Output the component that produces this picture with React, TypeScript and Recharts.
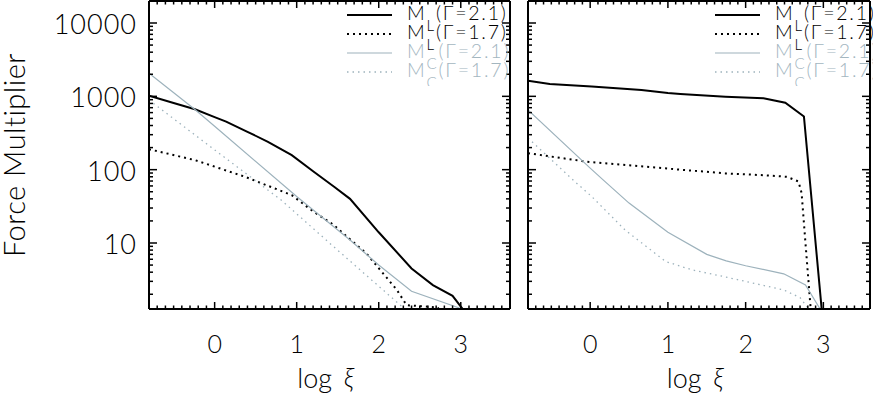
import React from 'react';
import { LineChart, Line, XAxis, YAxis, Legend } from 'recharts';

const FONT = "Lato, 'DejaVu Sans', 'Liberation Sans', sans-serif";
const BLACK = '#000000';
const GRAY = '#9db2bc';
const GRAY_TEXT = '#a3b6bf';

const X_MIN = -0.8;
const X_MAX = 3.6;
const Y_MIN = Math.pow(10, 0.1);
const Y_MAX = Math.pow(10, 4.3);
const X_MAJOR_TICKS = [0, 1, 2, 3];
const X_TICK_LABELS = ['0', '1', '2', '3'];
const Y_MAJOR_TICKS = [10, 100, 1000, 10000];
const Y_TICK_LABELS = ['10', '100', '1000', '10000'];
const X_TITLE = 'log';
const X_TITLE_SYMBOL = 'ξ';
const Y_TITLE = 'Force Multiplier';

const LEGEND_SUBS = ['L', 'L', 'C', 'C'];
const LEGEND_GAMMAS = ['2.1', '1.7', '2.1', '1.7'];

// Left panel
const LEFT_ML21_X = [-0.8, -0.5, -0.24, 0, 0.14, 0.4, 0.65, 0.94, 1.2, 1.46, 1.65, 2.0, 2.4, 2.66, 2.9, 3.05];
const LEFT_ML21_Y = [1020, 810, 667, 521, 452, 328, 240, 158, 95, 58, 40, 14, 4.5, 2.67, 1.9, 1.15];
const LEFT_ML17_X = [-0.8, -0.24, 0.37, 0.94, 1.2, 1.44, 1.85, 2.22, 2.34, 2.72, 2.76];
const LEFT_ML17_Y = [190, 135, 80, 45, 27, 18, 7.2, 2.3, 1.42, 1.32, 1.1];
const LEFT_MC21_X = [-0.8, -0.24, 0, 1.0, 1.65, 2.0, 2.4, 3.0, 3.05];
const LEFT_MC21_Y = [2065, 660, 390, 43, 11, 5.0, 2.2, 1.28, 1.15];
const LEFT_MC17_X = [-0.8, 0, 0.81, 1.4, 2.26, 2.3, 2.35];
const LEFT_MC17_Y = [890, 186, 38.6, 10, 1.43, 1.3, 1.15];

// Right panel
const RIGHT_ML21_X = [-0.8, -0.52, 0.02, 0.66, 1.0, 1.16, 1.74, 2.23, 2.51, 2.75, 2.98];
const RIGHT_ML21_Y = [1637, 1475, 1358, 1222, 1110, 1080, 990, 942, 820, 531, 1.2];
const RIGHT_ML17_X = [-0.8, -0.06, 1.16, 1.74, 2.23, 2.53, 2.68, 2.72, 2.77, 2.84];
const RIGHT_ML17_Y = [168, 129, 100, 89, 84, 80, 69, 48, 9.9, 1.15];
const RIGHT_MC21_X = [-0.8, 0, 0.17, 0.5, 1.0, 1.5, 1.75, 2.0, 2.49, 2.77, 2.97];
const RIGHT_MC21_Y = [652, 105, 72, 35, 14, 7.0, 5.7, 4.9, 3.8, 2.67, 1.2];
const RIGHT_MC17_X = [-0.8, -0.2, 0.02, 0.45, 0.97, 1.31, 1.71, 2.49, 2.7, 2.84];
const RIGHT_MC17_Y = [270, 69, 43, 15, 5.6, 4.3, 3.5, 2.29, 1.8, 1.15];

const zip = (xs: number[], ys: number[]) => xs.map((x, i) => ({ x, y: ys[i] }));

const X_ALL_TICKS: number[] = [];
for (let i = 0; i <= 44; i++) X_ALL_TICKS.push(Math.round((X_MIN + i * 0.1) * 10) / 10);
const Y_ALL_TICKS: number[] = [];
for (let e = 0; e <= 4; e++) {
  for (let m = 1; m <= 9; m++) {
    const v = m * Math.pow(10, e);
    if (v >= Y_MIN && v <= Y_MAX) Y_ALL_TICKS.push(v);
  }
}

const isXMajor = (v: number) => X_MAJOR_TICKS.some((m) => Math.abs(m - v) < 1e-6);
const isYMajor = (v: number) => Y_MAJOR_TICKS.some((m) => Math.abs(m - v) < 1e-6);

const PLOT_TOP = 1;
const PLOT_BOTTOM = 309;

const SERIES_STYLE = [
  { stroke: BLACK, width: 2, dash: undefined as string | undefined },
  { stroke: BLACK, width: 2, dash: '2 4' },
  { stroke: GRAY, width: 1.2, dash: undefined as string | undefined },
  { stroke: GRAY, width: 1.3, dash: '1.5 4' },
];

function BottomTick(props: any) {
  const { x, y, payload, showLabels } = props;
  const v = payload.value;
  const major = isXMajor(v);
  const idx = X_MAJOR_TICKS.findIndex((m) => Math.abs(m - v) < 1e-6);
  return (
    <g>
      <line x1={x} x2={x} y1={y} y2={y - (major ? 7 : 3.5)} stroke={BLACK} strokeWidth={1.5} />
      {major && showLabels && (
        <text x={x} y={y + 44} textAnchor="middle" fontSize={25} fontFamily={FONT} fontWeight={300} fill={BLACK}>
          {X_TICK_LABELS[idx]}
        </text>
      )}
    </g>
  );
}

function TopTick(props: any) {
  const { x, y, payload } = props;
  const major = isXMajor(payload.value);
  return <line x1={x} x2={x} y1={y} y2={y + (major ? 7 : 3.5)} stroke={BLACK} strokeWidth={1.5} />;
}

function LeftTick(props: any) {
  const { x, y, payload, showLabels } = props;
  const v = payload.value;
  const major = isYMajor(v);
  const idx = Y_MAJOR_TICKS.findIndex((m) => Math.abs(m - v) < 1e-6);
  return (
    <g>
      <line x1={x} x2={x + (major ? 8 : 4)} y1={y} y2={y} stroke={BLACK} strokeWidth={1.5} />
      {major && showLabels && (
        <text x={x - 12} y={y + 11} textAnchor="end" fontSize={27} fontFamily={FONT} fontWeight={300} fill={BLACK} letterSpacing={1}>
          {Y_TICK_LABELS[idx]}
        </text>
      )}
    </g>
  );
}

function RightTick(props: any) {
  const { x, y, payload } = props;
  const major = isYMajor(payload.value);
  return <line x1={x} x2={x - (major ? 8 : 4)} y1={y} y2={y} stroke={BLACK} strokeWidth={1.5} />;
}

function XTitle(props: any) {
  const vb = props.viewBox || {};
  const cx = (vb.x || 0) + (vb.width || 0) / 2;
  return (
    <text x={cx - 4} y={PLOT_BOTTOM + 79} textAnchor="middle" fontSize={27} fontFamily={FONT} fontWeight={300} fill={BLACK}>
      <tspan>{X_TITLE}</tspan>
      <tspan dx={12} fontStyle="italic">{X_TITLE_SYMBOL}</tspan>
    </text>
  );
}

function YTitle() {
  const cy = (PLOT_TOP + PLOT_BOTTOM) / 2;
  return (
    <text x={25} y={cy} transform={`rotate(-90, 25, ${cy})`} textAnchor="middle" fontSize={29} fontFamily={FONT} fontWeight={300} fill={BLACK} letterSpacing={0.5}>
      {Y_TITLE}
    </text>
  );
}

function LegendBox({ width }: { width: number }) {
  return (
    <svg width={width} height={86} style={{ display: 'block', overflow: 'hidden' }}>
      {LEGEND_SUBS.map((sub, i) => {
        const st = SERIES_STYLE[i];
        const ly = 15 + 19 * i;
        const by = 20 + 19 * i;
        const color = i < 2 ? BLACK : GRAY_TEXT;
        return (
          <g key={i}>
            <line x1={0} x2={45} y1={ly} y2={ly} stroke={st.stroke} strokeWidth={st.width} strokeDasharray={st.dash} />
            <text x={60} y={by} fill={color} fontSize={19.5} fontFamily={FONT} fontWeight={300} letterSpacing={1.8}>
              <tspan>M</tspan>
              <tspan dy={11} fontSize={15}>{sub}</tspan>
              <tspan dy={-11}>(Γ={LEGEND_GAMMAS[i]})</tspan>
            </text>
          </g>
        );
      })}
    </svg>
  );
}

type PanelProps = {
  left: number;
  width: number;
  margin: { top: number; right: number; bottom: number; left: number };
  series: { x: number; y: number }[][];
  showYLabels: boolean;
  legendLeft: number;
  legendWidth: number;
};

function Panel({ left, width, margin, series, showYLabels, legendLeft, legendWidth }: PanelProps) {
  return (
    <div style={{ position: 'absolute', left, top: 0 }}>
      <LineChart width={width} height={396} margin={margin}>
        <XAxis
          xAxisId="b"
          orientation="bottom"
          type="number"
          dataKey="x"
          domain={[X_MIN, X_MAX]}
          allowDataOverflow
          ticks={X_ALL_TICKS}
          interval={0}
          height={1}
          tickSize={0}
          tickMargin={0}
          tickLine={false}
          axisLine={{ stroke: BLACK, strokeWidth: 2 }}
          tick={(p: any) => <BottomTick {...p} showLabels />}
          label={<XTitle />}
        />
        <XAxis
          xAxisId="t"
          orientation="top"
          type="number"
          dataKey="x"
          domain={[X_MIN, X_MAX]}
          allowDataOverflow
          ticks={X_ALL_TICKS}
          interval={0}
          height={1}
          tickSize={0}
          tickMargin={0}
          tickLine={false}
          axisLine={{ stroke: BLACK, strokeWidth: 2 }}
          tick={(p: any) => <TopTick {...p} />}
        />
        <YAxis
          yAxisId="l"
          orientation="left"
          type="number"
          scale="log"
          domain={[Y_MIN, Y_MAX]}
          allowDataOverflow
          ticks={Y_ALL_TICKS}
          interval={0}
          width={1}
          tickSize={0}
          tickMargin={0}
          tickLine={false}
          axisLine={{ stroke: BLACK, strokeWidth: 2 }}
          tick={(p: any) => <LeftTick {...p} showLabels={showYLabels} />}
          label={showYLabels ? <YTitle /> : undefined}
        />
        <YAxis
          yAxisId="r"
          orientation="right"
          type="number"
          scale="log"
          domain={[Y_MIN, Y_MAX]}
          allowDataOverflow
          ticks={Y_ALL_TICKS}
          interval={0}
          width={1}
          tickSize={0}
          tickMargin={0}
          tickLine={false}
          axisLine={{ stroke: BLACK, strokeWidth: 2 }}
          tick={(p: any) => <RightTick {...p} />}
        />
        {series.map((d, i) => (
          <Line
            key={i}
            data={d}
            xAxisId="b"
            yAxisId="l"
            dataKey="y"
            type="linear"
            stroke={SERIES_STYLE[i].stroke}
            strokeWidth={SERIES_STYLE[i].width}
            strokeDasharray={SERIES_STYLE[i].dash}
            dot={false}
            activeDot={false}
            isAnimationActive={false}
          />
        ))}
        <Legend
          layout="vertical"
          align="center"
          verticalAlign="middle"
          wrapperStyle={{ position: 'absolute', left: legendLeft, top: 0, width: legendWidth, height: 86 }}
          content={() => <LegendBox width={legendWidth} />}
        />
      </LineChart>
    </div>
  );
}

export default function App() {
  const leftSeries = [
    zip(LEFT_ML21_X, LEFT_ML21_Y),
    zip(LEFT_ML17_X, LEFT_ML17_Y),
    zip(LEFT_MC21_X, LEFT_MC21_Y),
    zip(LEFT_MC17_X, LEFT_MC17_Y),
  ];
  const rightSeries = [
    zip(RIGHT_ML21_X, RIGHT_ML21_Y),
    zip(RIGHT_ML17_X, RIGHT_ML17_Y),
    zip(RIGHT_MC21_X, RIGHT_MC21_Y),
    zip(RIGHT_MC17_X, RIGHT_MC17_Y),
  ];
  return (
    <div style={{ position: 'absolute', left: 0, top: 0, width: 873, height: 396, overflow: 'hidden', background: '#fff' }}>
      <Panel
        left={0}
        width={520}
        margin={{ top: 0, right: 9, bottom: 86, left: 148 }}
        series={leftSeries}
        showYLabels
        legendLeft={347}
        legendWidth={170}
      />
      <Panel
        left={520}
        width={353}
        margin={{ top: 0, right: 2, bottom: 86, left: 7 }}
        series={rightSeries}
        showYLabels={false}
        legendLeft={195}
        legendWidth={158}
      />
    </div>
  );
}
